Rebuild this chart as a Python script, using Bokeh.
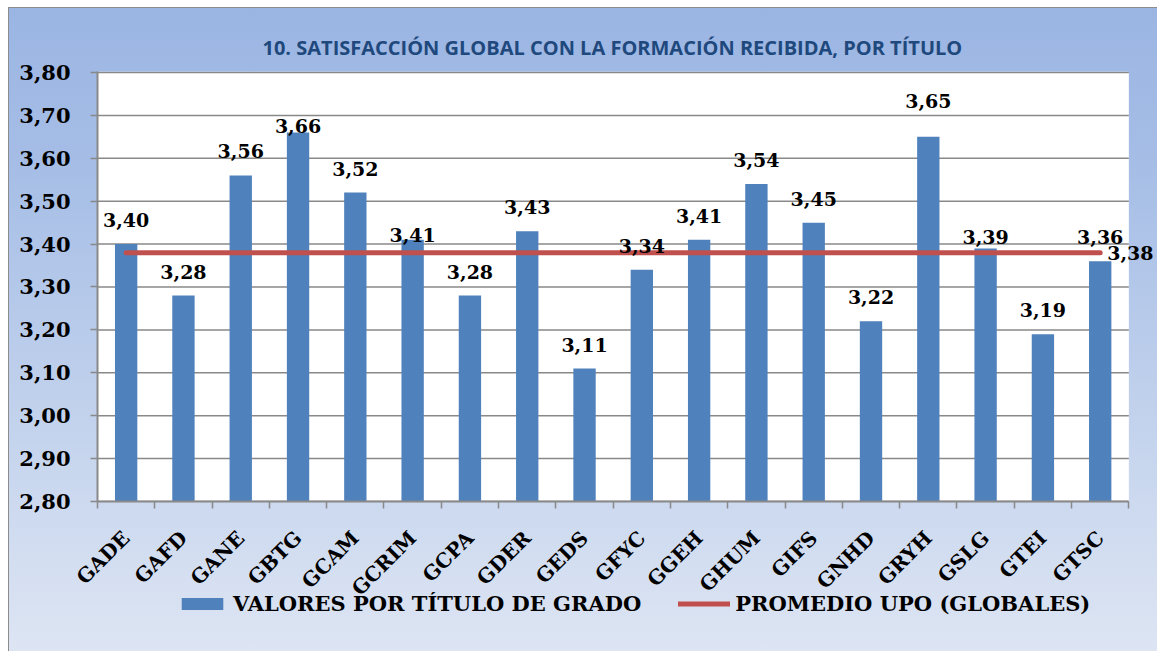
from bokeh.plotting import figure
from bokeh.layouts import column
from bokeh.models import (ColumnDataSource, FixedTicker, Label, BoxAnnotation,
                          Legend, LegendItem, Range1d, CustomJSTickFormatter)
from bokeh.core.properties import value
from bokeh.embed import file_html
from bokeh.resources import INLINE
import math

# ---------------- data ----------------
categories = ["GADE", "GAFD", "GANE", "GBTG", "GCAM", "GCRIM", "GCPA", "GDER", "GEDS",
              "GFYC", "GGEH", "GHUM", "GIFS", "GNHD", "GRYH", "GSLG", "GTEI", "GTSC"]
values = [3.40, 3.28, 3.56, 3.66, 3.52, 3.41, 3.28, 3.43, 3.11,
          3.34, 3.41, 3.54, 3.45, 3.22, 3.65, 3.39, 3.19, 3.36]
promedio = 3.38
y_ticks = [2.80, 2.90, 3.00, 3.10, 3.20, 3.30, 3.40, 3.50, 3.60, 3.70, 3.80]
title_text = "10. SATISFACCIÓN GLOBAL CON LA FORMACIÓN RECIBIDA, POR TÍTULO"
series_bar = "VALORES POR TÍTULO DE GRADO"
series_line = "PROMEDIO UPO (GLOBALES)"

# label lift above bar top (px), style only
label_lift = {"GBTG": 7, "GCRIM": 5, "GRYH": 36, "GSLG": 11}
default_lift = 24

# ---------------- styles ----------------
BAR = "#4F81BD"
RED = "#C0504D"
GRID = "#898989"
SERIF = "DejaVu Serif"
W, H1, H2, OVERLAP = 1149, 604, 66, 26

def fmt(v):
    return f"{v:.2f}".replace(".", ",")

n = len(categories)
centers = [i + 0.5 for i in range(n)]
bounds = [float(i) for i in range(n + 1)]

src = ColumnDataSource(dict(
    x=centers, top=values, cat=categories,
    lbl=[fmt(v) for v in values],
    yoff=[-label_lift.get(c, default_lift) for c in categories],
))
line_src = ColumnDataSource(dict(x=centers, y=[promedio] * n))
grid_src = ColumnDataSource(dict(x0=[0] * len(y_ticks), x1=[n] * len(y_ticks), y=y_ticks))

p = figure(width=W, height=H1, output_backend="svg", toolbar_location=None,
           x_range=Range1d(0, n + 0.5), y_range=Range1d(y_ticks[0], y_ticks[-1] + 0.0023),
           min_border_left=89, min_border_right=0, min_border_top=64,
           min_border_bottom=H1 - 495)
p.background_fill_alpha = 0
p.border_fill_alpha = 0
p.outline_line_color = None

# white plotting area (only over the categories)
p.add_layout(BoxAnnotation(left=0, right=n, fill_color="white", fill_alpha=1,
                           line_color=None, level="image"))

# title
p.title.text = title_text
p.title.align = "left"
p.title.offset = 165
p.title.text_font = "Open Sans"
p.title.text_font_style = "bold"
p.title.text_font_size = "20px"
p.title.text_color = "#1F497D"
p.title.standoff = 21

p.segment(x0="x0", x1="x1", y0="y", y1="y", source=grid_src,
          line_color=GRID, line_width=1.5)

bars = p.vbar(x="x", top="top", bottom=y_ticks[0], width=0.39, source=src,
              fill_color=BAR, line_color=None)
ln = p.line(x="x", y="y", source=line_src, line_color=RED, line_width=5, line_cap="round")

p.text(x="x", y="top", text="lbl", source=src, y_offset="yoff",
       text_font=value(SERIF), text_font_style="bold", text_font_size="19px",
       text_align="center", text_baseline="middle", text_color="black")

p.add_layout(Label(x=centers[-1], y=promedio, text=fmt(promedio), x_offset=7,
                   text_font=SERIF, text_font_style="bold", text_font_size="19px",
                   text_baseline="middle", text_align="left", text_color="black"))

# axes
xa = p.xaxis[0]
xa.bounds = (0, n)
xa.ticker = FixedTicker(ticks=centers, minor_ticks=bounds)
xa.major_label_overrides = {c: name for c, name in zip(centers, categories)}
xa.major_tick_line_color = None
xa.minor_tick_in = 0
xa.minor_tick_out = 7
xa.minor_tick_line_color = GRID
xa.minor_tick_line_width = 1.5
xa.axis_line_color = GRID
xa.axis_line_width = 2
xa.major_label_orientation = math.pi / 4
xa.major_label_text_font = SERIF
xa.major_label_text_font_style = "bold"
xa.major_label_text_font_size = "20px"
xa.major_label_text_color = "black"
xa.major_label_standoff = 26

ya = p.yaxis[0]
ya.ticker = FixedTicker(ticks=y_ticks, minor_ticks=[])
ya.formatter = CustomJSTickFormatter(code="return tick.toFixed(2).replace('.', ',');")
ya.major_tick_in = 0
ya.major_tick_out = 7
ya.major_tick_line_color = GRID
ya.major_tick_line_width = 1.5
ya.axis_line_color = GRID
ya.axis_line_width = 2
ya.major_label_text_font = SERIF
ya.major_label_text_font_style = "bold"
ya.major_label_text_font_size = "21px"
ya.major_label_text_color = "black"
ya.major_label_standoff = 20

p.xgrid.grid_line_color = None
p.ygrid.grid_line_color = None

# legend strip (own transparent figure, same series drawn out of its view)
q = figure(width=W, height=H2, output_backend="svg", toolbar_location=None,
           x_axis_type=None, y_axis_type=None, x_range=Range1d(0, n),
           y_range=Range1d(10, 11), min_border=0, margin=(-OVERLAP, 0, 0, 0))
q.background_fill_alpha = 0
q.border_fill_alpha = 0
q.outline_line_color = None
q.xgrid.visible = False
q.ygrid.visible = False
lb = q.vbar(x="x", top="top", bottom=y_ticks[0], width=0.39, source=src,
            fill_color=BAR, line_color=None)
ll = q.line(x="x", y="y", source=line_src, line_color=RED, line_width=5, line_cap="round")
legend = Legend(items=[LegendItem(label=series_bar, renderers=[lb]),
                       LegendItem(label=series_line, renderers=[ll])],
                orientation="horizontal", location=(79, 35),
                label_text_font=SERIF, label_text_font_style="bold",
                label_text_font_size="21px", label_text_color="black",
                glyph_width=52, glyph_height=15, label_standoff=5, spacing=37,
                background_fill_alpha=0, border_line_color=None,
                padding=4, margin=0)
q.add_layout(legend, "center")

layout = column(p, q, spacing=0, margin=(7, 0, 0, 8))
layout.styles = {"background": "linear-gradient(to bottom, #9BB5E3 0%, #A6BEE6 25%, #DDE5F3 100%)",
                 "box-shadow": "inset 1px 1px 0 #8C8C8C"}

open("out.html", "w").write(file_html(layout, INLINE))
